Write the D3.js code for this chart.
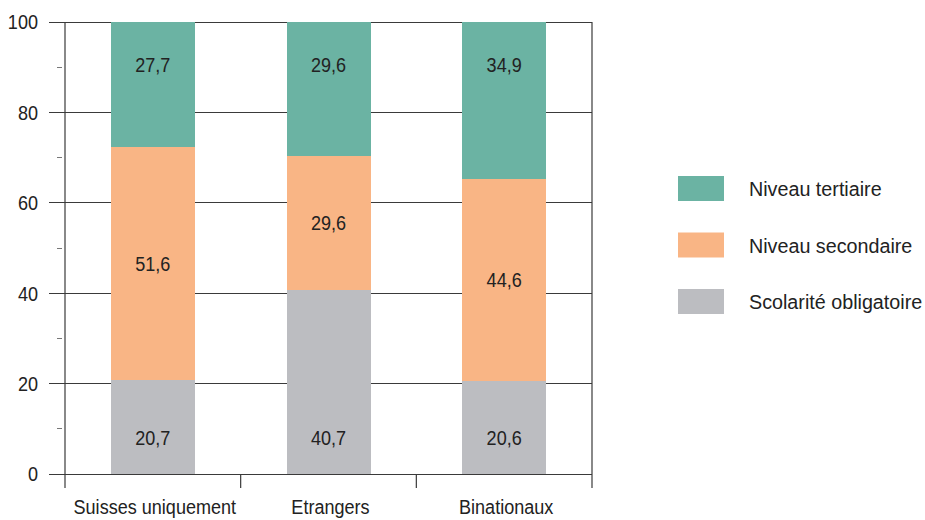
<!DOCTYPE html>
<html>
<head>
<meta charset="utf-8">
<script src="https://cdn.jsdelivr.net/npm/d3@7"></script>
<style>
  html, body { margin: 0; padding: 0; background: #fff; }
  svg { display: block; font-family: "Liberation Sans", Arial, sans-serif; }
</style>
</head>
<body>
<svg id="chart" width="925" height="520"></svg>
<script>
// Education level by nationality group (percent)
const categories = ["Suisses uniquement", "Etrangers", "Binationaux"];
const levels = ["Scolarité obligatoire", "Niveau secondaire", "Niveau tertiaire"];
const obligatoire = [20.7, 40.7, 20.6];
const secondaire = [51.6, 29.6, 44.6];
const tertiaire = [27.7, 29.6, 34.9];
const yTicks = [0, 20, 40, 60, 80, 100];
const yMinorTicks = [10, 30, 50, 70, 90];
const colors = ["#bcbdc1", "#f9b585", "#6bb3a3"];

const series = [obligatoire, secondaire, tertiaire];
const rows = categories.map((c, i) => {
  const r = { category: c };
  levels.forEach((l, j) => { r[l] = series[j][i]; });
  return r;
});

const svg = d3.select("#chart");
const plotLeft = 65, plotRight = 592, plotTop = 22, plotBottom = 474;
const fontSize = 21;
const condense = 0.86; // narrow sans look

const x = d3.scaleBand().domain(categories).range([plotLeft, plotRight]).paddingInner(0).paddingOuter(0);
const y = d3.scaleLinear().domain([0, 100]).range([plotBottom, plotTop]);
const color = d3.scaleOrdinal().domain(levels).range(colors);

const axisColor = "#3a3a3a";

// place condensed text at (px, py)
function placeText(sel, px, py, sx = condense) {
  return sel.attr("x", 0).attr("y", 0)
    .attr("transform", (d, i) => `translate(${px(d, i)},${py(d, i)}) scale(${sx},1)`)
    .attr("font-size", fontSize)
    .attr("fill", "#222");
}

// horizontal gridlines
svg.append("g").selectAll("line").data(yTicks).join("line")
  .attr("x1", 49).attr("x2", plotRight)
  .attr("y1", d => y(d)).attr("y2", d => y(d))
  .attr("stroke", axisColor).attr("stroke-width", 1)
  .attr("shape-rendering", "crispEdges");

// minor y ticks
svg.append("g").selectAll("line").data(yMinorTicks).join("line")
  .attr("x1", 57).attr("x2", 62)
  .attr("y1", d => y(d)).attr("y2", d => y(d))
  .attr("stroke", "#777").attr("stroke-width", 1)
  .attr("shape-rendering", "crispEdges");

// y tick labels
placeText(
  svg.append("g").selectAll("text").data(yTicks).join("text"),
  () => 38, d => y(d))
  .attr("dy", "0.35em")
  .attr("text-anchor", "end")
  .text(d => d);

// stacked bars
const stack = d3.stack().keys(levels);
const stacked = stack(rows);
const barW = 84;

const layers = svg.append("g").selectAll("g").data(stacked).join("g")
  .attr("fill", d => color(d.key));

layers.selectAll("rect").data(d => d).join("rect")
  .attr("x", d => x(d.data.category) + x.bandwidth() / 2 - barW / 2)
  .attr("width", barW)
  .attr("y", d => y(Math.min(d[1], 100)))
  .attr("height", d => y(d[0]) - y(Math.min(d[1], 100)))
  .attr("shape-rendering", "crispEdges");

// value labels: bottom and top rows sit on a common line, middle ones are centred
const fmt = v => d3.format(".1f")(v).replace(".", ",");
const lastLayer = levels.length - 1;
const labelY = (s, li) => {
  if (li === 0) return y(8);
  if (li === lastLayer) return y(90.5);
  return (y(s[0]) + y(Math.min(s[1], 100))) / 2;
};
placeText(
  layers.selectAll("text").data((d, li) => d.map(s => ({ s, key: d.key, li }))).join("text"),
  d => x(d.s.data.category) + x.bandwidth() / 2,
  d => labelY(d.s, d.li))
  .attr("dy", "0.35em")
  .attr("text-anchor", "middle")
  .text(d => fmt(d.s.data[d.key]));

// axes frame: left axis line, right edge, category separators
const sepX = [plotLeft, ...categories.slice(1).map(c => x(c)), plotRight];
svg.append("line")
  .attr("x1", plotLeft).attr("x2", plotLeft).attr("y1", plotTop).attr("y2", 488)
  .attr("stroke", axisColor).attr("stroke-width", 1.2);
svg.append("g").selectAll("line").data(sepX.slice(1)).join("line")
  .attr("x1", d => d).attr("x2", d => d)
  .attr("y1", d => d === plotRight ? plotTop : plotBottom).attr("y2", 488)
  .attr("stroke", axisColor).attr("stroke-width", 1.2);

// category labels
placeText(
  svg.append("g").selectAll("text").data(categories).join("text"),
  d => x(d) + x.bandwidth() / 2 + 2, () => 514)
  .attr("text-anchor", "middle")
  .text(d => d);

// legend
const legendItems = levels.slice().reverse();
const lg = svg.append("g").selectAll("g").data(legendItems).join("g")
  .attr("transform", (d, i) => `translate(678, ${176 + i * 56.5})`);
lg.append("rect").attr("width", 46).attr("height", 25).attr("fill", d => color(d));
placeText(lg.append("text"), () => 71, () => 13, 0.94)
  .attr("dy", "0.35em")
  .text(d => d);
</script>
</body>
</html>
